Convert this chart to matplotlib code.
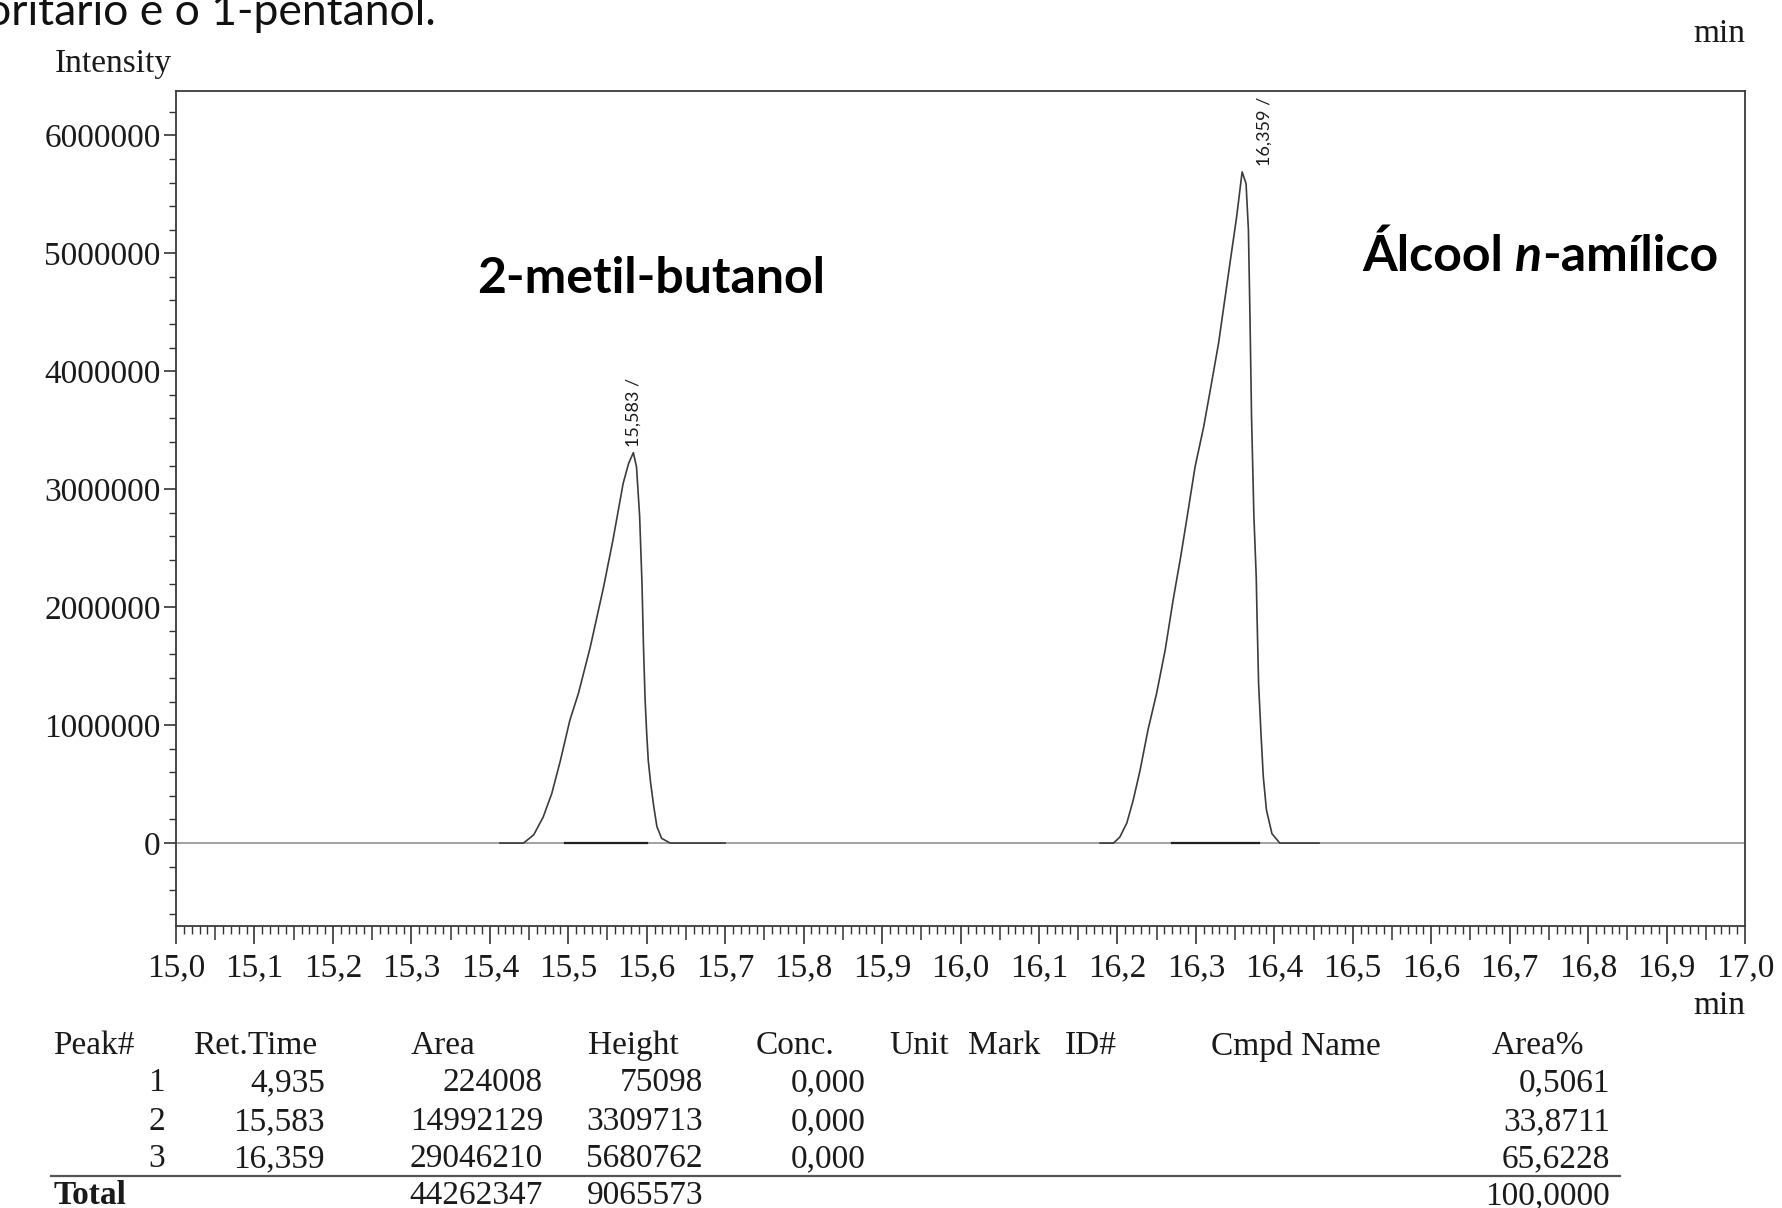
import numpy as np
import matplotlib.pyplot as plt
from matplotlib.ticker import FixedLocator

W, H = 1782, 1208

# chromatogram trace (time in min, intensity)
peak1_time = [15.413, 15.430, 15.443, 15.456, 15.468, 15.479, 15.490, 15.502, 15.513,
              15.528, 15.545, 15.557, 15.570, 15.577, 15.583, 15.587, 15.591, 15.594,
              15.596, 15.598, 15.600, 15.602, 15.605, 15.609, 15.613, 15.619, 15.630, 15.700]
peak1_int = [0, 0, 0.00, 0.07, 0.22, 0.42, 0.70, 1.04, 1.27,
             1.66, 2.17, 2.57, 3.05, 3.22, 3.31, 3.19, 2.77, 2.20,
             1.64, 1.21, 0.93, 0.70, 0.51, 0.31, 0.14, 0.04, 0.00, 0]
peak2_time = [16.178, 16.195, 16.203, 16.212, 16.220, 16.229, 16.239, 16.250, 16.261,
              16.271, 16.281, 16.289, 16.299, 16.310, 16.320, 16.329, 16.335, 16.344,
              16.352, 16.359, 16.364, 16.367, 16.369, 16.371, 16.374, 16.377, 16.378,
              16.380, 16.383, 16.386, 16.390, 16.397, 16.407, 16.457]
peak2_int = [0, 0.00, 0.05, 0.17, 0.36, 0.62, 0.96, 1.27, 1.64,
             2.06, 2.44, 2.77, 3.19, 3.53, 3.90, 4.24, 4.52, 4.94,
             5.31, 5.69, 5.59, 5.20, 4.46, 3.61, 2.77, 2.25, 1.92,
             1.35, 0.93, 0.56, 0.28, 0.08, 0.00, 0]
# integration baselines drawn under each peak
base1_time = [15.496, 15.600]
base2_time = [16.269, 16.380]

peak_rt = [15.583, 16.359]
peak_top = [3.31, 5.69]
peak_labels = ['15,583 /', '16,359 /']
peak_label_dx = [0, 16]

x_major = [15.0, 15.1, 15.2, 15.3, 15.4, 15.5, 15.6, 15.7, 15.8, 15.9, 16.0,
           16.1, 16.2, 16.3, 16.4, 16.5, 16.6, 16.7, 16.8, 16.9, 17.0]
x_labels = ['15,0', '15,1', '15,2', '15,3', '15,4', '15,5', '15,6', '15,7', '15,8', '15,9', '16,0',
            '16,1', '16,2', '16,3', '16,4', '16,5', '16,6', '16,7', '16,8', '16,9', '17,0']
y_major = [0, 1000000, 2000000, 3000000, 4000000, 5000000, 6000000]
y_labels = ['0', '1000000', '2000000', '3000000', '4000000', '5000000', '6000000']

# results table
tab_header = ['Peak#', 'Ret.Time', 'Area', 'Height', 'Conc.', 'Unit', 'Mark', 'ID#', 'Cmpd Name', 'Area%']
peak_no = ['1', '2', '3']
ret_time = ['4,935', '15,583', '16,359']
area = ['224008', '14992129', '29046210']
height = ['75098', '3309713', '5680762']
conc = ['0,000', '0,000', '0,000']
area_pct = ['0,5061', '33,8711', '65,6228']
total_area = '44262347'
total_height = '9065573'
total_pct = '100,0000'

serif = 'Liberation Serif'
sans = 'Lato'
ink = '#1a1a1a'


def fx(x):
    return x / W


def fy(y):
    return 1 - y / H


fig = plt.figure(figsize=(W / 100, H / 100), dpi=100)
fig.patch.set_facecolor('white')
ax = fig.add_axes([fx(176), fy(926), (1745 - 176) / W, (926 - 91) / H])

ax.axhline(0, color='#9a9a9a', lw=1.3, zorder=1)
ax.plot(peak1_time, np.array(peak1_int) * 1e6, color='#3c3c3c', lw=1.2, zorder=3)
ax.plot(peak2_time, np.array(peak2_int) * 1e6, color='#3c3c3c', lw=1.2, zorder=3)
ax.plot(base1_time, [0, 0], color='#202020', lw=1.6, zorder=2)
ax.plot(base2_time, [0, 0], color='#202020', lw=1.6, zorder=2)

for rt, top, lab, dx in zip(peak_rt, peak_top, peak_labels, peak_label_dx):
    ax.annotate(lab, (rt, top * 1e6), xytext=(dx, 4), textcoords='offset points',
                rotation=90, ha='center', va='bottom', fontsize=13, family=sans, color=ink)

ax.text(15.606, 4.79e6, '2-metil-butanol', ha='center', va='center',
        fontsize=36, fontweight='bold', family=sans, color='black')
t1 = ax.text(16.512, 4.98e6, 'Álcool ', ha='left', va='center',
             fontsize=36, fontweight='bold', family=sans, color='black')
t2 = ax.annotate('n', xy=(1, 0), xycoords=t1, ha='left', va='bottom',
                 fontsize=36, fontweight='bold', fontstyle='italic', family=sans, color='black')
ax.annotate('-amílico', xy=(1, 0), xycoords=t2, ha='left', va='bottom',
            fontsize=36, fontweight='bold', family=sans, color='black')

ax.set_xlim(15.0, 17.0)
ax.set_ylim(-0.703e6, 6.376e6)

ax.set_xticks(x_major, x_labels)
x_all = np.round(np.arange(15.0, 17.0001, 0.01), 2)
x_mid = [v for v in np.round(np.arange(15.05, 17.0, 0.1), 2)]
x_minor = [v for v in x_all if round(v * 100) % 5 != 0]
ax.xaxis.set_minor_locator(FixedLocator(x_minor))
ax.set_yticks(y_major, y_labels)
ax.yaxis.set_minor_locator(FixedLocator(np.arange(-600000, 6300000, 200000)))

ax.tick_params(axis='x', which='major', direction='out', length=13, width=1.2,
               color='#333333', pad=6, labelsize=24, labelcolor=ink)
ax.tick_params(axis='x', which='minor', direction='out', length=6, width=1.0, color='#333333')
ax.tick_params(axis='y', which='major', direction='out', length=9, width=1.2,
               color='#333333', pad=2, labelsize=24, labelcolor=ink)
ax.tick_params(axis='y', which='minor', direction='out', length=5, width=1.0, color='#333333')
for lab in ax.get_xticklabels() + ax.get_yticklabels():
    lab.set_family(serif)

sec = ax.secondary_xaxis('bottom')
sec.set_xticks(x_mid, [])
sec.tick_params(axis='x', direction='out', length=10, width=1.1, color='#333333')
sec.spines['bottom'].set_visible(False)

for s in ax.spines.values():
    s.set_color('#3a3a3a')
    s.set_linewidth(1.3)

# texts around the plot
fig.text(fx(-14), fy(25), 'oritário e o 1-pentanol.', ha='left', va='baseline',
         fontsize=32, family=sans, color='#111111')
fig.text(fx(55), fy(64), 'Intensity', ha='left', va='center', fontsize=24, family=serif, color=ink)
fig.text(fx(1745), fy(34), 'min', ha='right', va='center', fontsize=24, family=serif, color=ink)
fig.text(fx(1745), fy(1006), 'min', ha='right', va='center', fontsize=24, family=serif, color=ink)

# table
head_x = [53, 193, 411, 588, 756, 889, 968, 1065, 1211, 1492]
for x, h in zip(head_x, tab_header):
    fig.text(fx(x), fy(1046), h, ha='left', va='center', fontsize=24, family=serif, color=ink)
row_y = [1083, 1122, 1159]
cols = [(165, peak_no), (325, ret_time), (543, area), (703, height), (866, conc), (1610, area_pct)]
for x, vals in cols:
    for y, v in zip(row_y, vals):
        fig.text(fx(x), fy(y), v, ha='right', va='center', fontsize=24, family=serif, color=ink)
fig.add_artist(plt.Line2D([fx(51), fx(1620)], [fy(1176), fy(1176)], color='#555555', lw=1.6))
fig.text(fx(53), fy(1196), 'Total', ha='left', va='center', fontsize=24, family=serif,
         fontweight='bold', color=ink)
fig.text(fx(543), fy(1196), total_area, ha='right', va='center', fontsize=24, family=serif, color=ink)
fig.text(fx(703), fy(1196), total_height, ha='right', va='center', fontsize=24, family=serif, color=ink)
fig.text(fx(1610), fy(1196), total_pct, ha='right', va='center', fontsize=24, family=serif, color=ink)

fig.savefig('out.png', dpi=100, facecolor='white')
